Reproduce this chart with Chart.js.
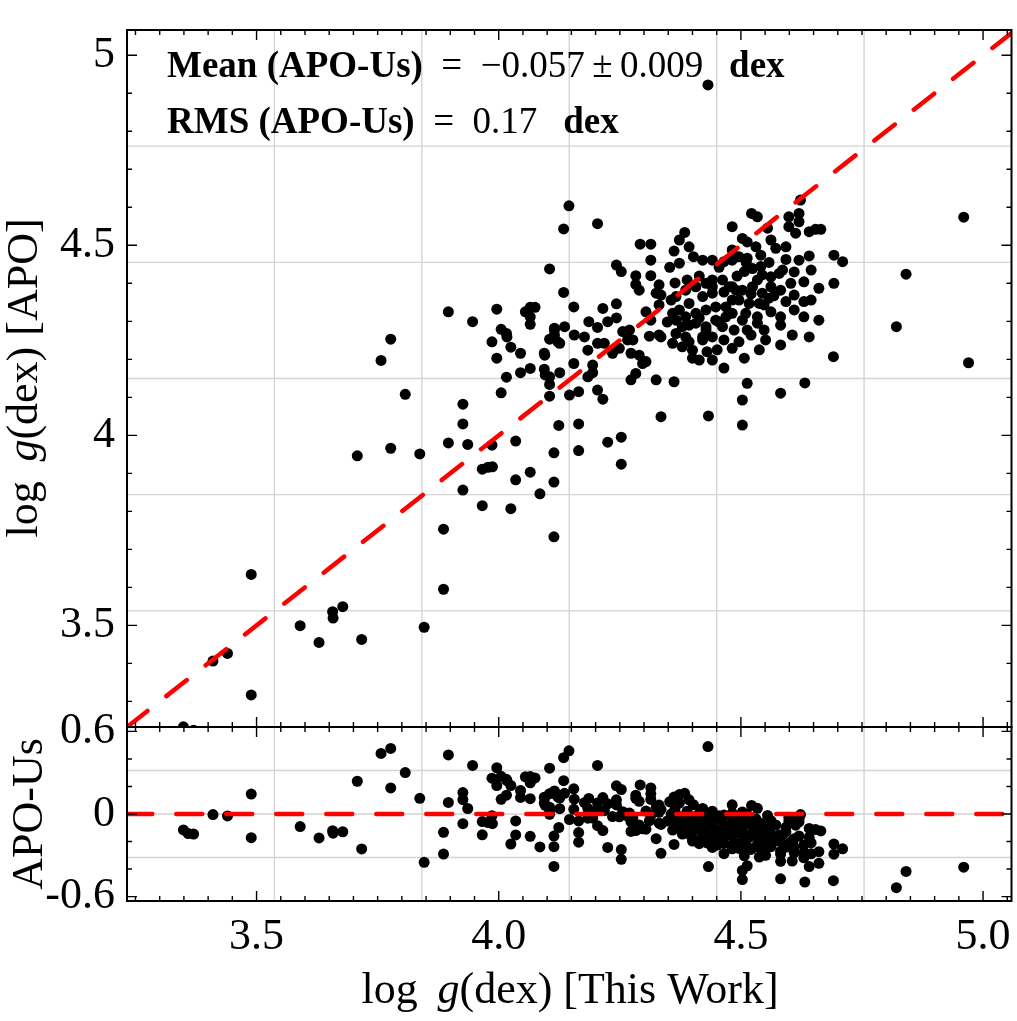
<!DOCTYPE html>
<html lang="en">
<head>
<meta charset="UTF-8">
<title>log g: APO vs This Work</title>
<script src="https://cdn.jsdelivr.net/npm/chart.js"></script>
<style>
  body { margin: 0; background: #fff; }
  #wrap { position: relative; width: 1017px; height: 1021px; }
  #wrap canvas { position: absolute; left: 0; top: 0; }
</style>
</head>
<body>
<div id="wrap">
  <canvas id="mainChart" width="1017" height="1021"></canvas>
  <canvas id="residChart" width="1017" height="1021"></canvas>
</div>
<script>
// log g (dex) from this work, one entry per star
const thisWork = [
  3.349, 3.359, 3.370, 3.410, 3.440, 3.489, 3.489, 3.590, 3.629, 3.657, 3.658, 3.678, 3.717, 3.708, 3.757, 3.777, 3.807, 3.777, 3.837, 3.846, 3.886, 3.886, 3.896, 3.896,
  3.946, 3.996, 3.926, 3.926, 3.936, 3.986, 4.035, 3.966, 3.978, 3.987, 4.065, 4.035, 3.926, 4.085, 3.966, 4.025, 4.114, 4.114, 4.124, 4.114, 4.005, 4.016, 4.045, 4.065, 4.094, 4.096, 4.105, 4.105, 4.095, 4.105, 4.115, 4.122, 3.986, 3.996, 4.025, 4.045, 4.005, 4.016, 4.017, 4.065, 4.075, 4.055, 4.065, 4.065, 4.105,
  4.145, 4.134, 4.204, 4.134, 4.155, 4.243, 4.253, 4.292, 4.314, 4.314, 4.283, 4.283, 4.314, 4.373, 4.384, 4.393, 4.362, 4.353, 4.373, 4.402, 4.421, 4.441, 4.455, 4.482, 4.482, 4.482, 4.441, 4.400, 4.414, 4.362, 4.325, 4.335, 4.433, 4.243, 4.215, 4.243, 4.186, 4.225, 4.204, 4.115, 4.136, 4.126, 4.115, 4.156, 4.177, 4.204, 4.184, 4.218, 4.094, 4.105, 4.126, 4.155, 4.194, 4.194, 4.184, 4.146, 4.165, 4.204, 4.215, 4.165, 4.165, 4.225, 4.253, 4.253, 4.273, 4.283, 4.235, 4.249, 4.273, 4.266, 4.290, 4.304, 4.297, 4.256, 4.270, 4.277, 4.304, 4.314, 4.331, 4.311, 4.290, 4.325, 4.335, 4.331, 4.335,
  4.356, 4.366, 4.386, 4.407, 4.428, 4.441, 4.462, 4.476, 4.441, 4.421, 4.393, 4.373, 4.359, 4.366, 4.386, 4.407, 4.428, 4.448, 4.469, 4.482, 4.490, 4.379, 4.366, 4.386, 4.359, 4.379, 4.400, 4.421, 4.441, 4.462, 4.428, 4.407, 4.469,
  4.623, 4.522, 4.534, 4.599, 4.620, 4.620, 4.555, 4.599, 4.613, 4.641, 4.654, 4.665, 4.503, 4.513, 4.562, 4.572, 4.593, 4.531, 4.541, 4.496, 4.513, 4.482, 4.465, 4.593, 4.620, 4.641, 4.692, 4.710, 4.507, 4.524, 4.541, 4.544, 4.534, 4.562, 4.579, 4.586, 4.603, 4.630, 4.661, 4.692, 4.582, 4.562, 4.544, 4.524, 4.503, 4.482, 4.441, 4.593, 4.630, 4.558, 4.538, 4.517, 4.496, 4.582, 4.582, 4.630, 4.534, 4.534, 4.510, 4.503, 4.513, 4.482, 4.448, 4.428, 4.421, 4.641, 4.582, 4.551, 4.691, 4.513, 4.503, 4.582, 4.632, 4.503,
  4.348, 4.393, 4.414, 4.455, 4.486, 4.465, 4.451, 4.430, 4.393, 4.496, 4.521, 4.548, 4.562, 4.548, 4.610, 4.610, 4.568, 4.521, 4.492, 4.465, 4.414, 4.389, 4.364, 4.331, 4.511, 4.558, 4.610, 4.645, 4.645, 4.661, 4.606, 4.538, 4.507, 4.465,
  4.960, 4.841, 4.821, 4.970, 4.432
];

// log g (dex) from APO, same order as thisWork
const apo = [
  3.233, 3.217, 3.224, 3.406, 3.426, 3.634, 3.317, 3.499, 3.455, 3.536, 3.519, 3.549, 3.463, 3.946, 4.197, 4.253, 4.108, 3.966, 3.951, 3.495, 3.753, 3.595, 4.325, 3.980,
  4.299, 4.332, 4.082, 4.030, 3.976, 3.974, 3.985, 3.911, 3.916, 3.917, 3.903, 3.883, 3.856, 3.846, 3.815, 3.807, 3.733, 3.954, 4.026, 3.877, 4.112, 4.153, 4.165, 4.176, 4.174, 4.159, 4.134, 4.103, 4.211, 4.253, 4.277, 4.246, 4.246, 4.203, 4.232, 4.216, 4.279, 4.268, 4.259, 4.337, 4.337, 4.325, 4.312, 4.292, 4.438,
  4.604, 4.543, 4.557, 4.376, 4.338, 4.448, 4.431, 4.503, 4.503, 4.461, 4.420, 4.397, 4.420, 4.514, 4.534, 4.496, 4.485, 4.442, 4.453, 4.470, 4.461, 4.461, 4.442, 4.549, 4.488, 4.229, 4.198, 4.203, 4.198, 4.141, 4.146, 4.049, 4.051, 4.346, 4.334, 4.309, 4.299, 4.299, 4.284, 4.282, 4.286, 4.242, 4.264, 4.264, 4.259, 4.242, 4.224, 4.242, 4.216, 4.154, 4.165, 4.189, 4.185, 4.165, 4.154, 4.106, 4.115, 4.119, 4.095, 4.030, 3.960, 3.982, 3.995, 3.924, 4.146, 4.163, 4.216, 4.229, 4.216, 4.251, 4.211, 4.194, 4.189, 4.273, 4.277, 4.251, 4.325, 4.303, 4.264, 4.261, 4.382, 4.374, 4.369, 4.343, 4.259,
  4.356, 4.365, 4.382, 4.391, 4.400, 4.409, 4.409, 4.391, 4.374, 4.365, 4.347, 4.330, 4.321, 4.303, 4.312, 4.321, 4.330, 4.338, 4.338, 4.356, 4.382, 4.286, 4.268, 4.259, 4.242, 4.233, 4.224, 4.251, 4.259, 4.286, 4.277, 4.295, 4.312,
  4.619, 4.584, 4.575, 4.575, 4.584, 4.562, 4.545, 4.549, 4.532, 4.536, 4.542, 4.542, 4.518, 4.509, 4.514, 4.492, 4.496, 4.496, 4.474, 4.470, 4.466, 4.461, 4.457, 4.463, 4.461, 4.472, 4.474, 4.457, 4.431, 4.439, 4.444, 4.422, 4.409, 4.417, 4.426, 4.435, 4.400, 4.404, 4.387, 4.400, 4.382, 4.391, 4.374, 4.391, 4.382, 4.391, 4.391, 4.352, 4.352, 4.361, 4.347, 4.347, 4.356, 4.312, 4.290, 4.312, 4.312, 4.295, 4.321, 4.303, 4.277, 4.321, 4.303, 4.286, 4.259, 4.259, 4.238, 4.251, 4.207, 4.137, 4.093, 4.111, 4.138, 4.027,
  4.298, 4.290, 4.309, 4.298, 4.277, 4.251, 4.225, 4.220, 4.246, 4.246, 4.264, 4.277, 4.325, 4.343, 4.330, 4.369, 4.367, 4.372, 4.419, 4.377, 4.419, 4.409, 4.401, 4.396, 4.455, 4.455, 4.430, 4.435, 4.356, 4.303, 4.264, 4.225, 4.203, 4.177,
  4.574, 4.424, 4.286, 4.191, 4.922
];

const xTicks = [3.5, 4.0, 4.5, 5.0];
const xTickLabels = ['3.5', '4.0', '4.5', '5.0'];
const apoTicks = [3.5, 4, 4.5, 5];
const apoTickLabels = ['3.5', '4', '4.5', '5'];
const residTicks = [-0.6, 0, 0.6];
const residTickLabels = ['-0.6', '0', '0.6'];
const refLine = [3.2, 5.1];          // 1:1 line / zero line extent
const meanText = '\u22120.057\u2009\u00b1\u20090.009';
const rmsText = '0.17';

const FONT = "'Liberation Serif', 'DejaVu Serif', serif";
const X_MIN = 3.2325, X_MAX = 5.0587;
const Y_MIN = 3.2325, Y_MAX = 5.0666;
const R_LIM = 0.632;
const SP = '\u2002';   // wider gap, like TeX math spacing

function steps(from, to, step) {
  const out = [];
  for (let v = from; v <= to + 1e-9; v += step) out.push(+v.toFixed(4));
  return out;
}

// grid (equal divisions of each axis), inside ticks on all sides and frame
const panelFrame = {
  id: 'panelFrame',
  beforeDatasetsDraw(chart, args, o) {
    const { ctx, chartArea: a, scales: { x, y } } = chart;
    ctx.save();
    ctx.strokeStyle = '#d4d4d4';
    ctx.lineWidth = 1.4;
    ctx.beginPath();
    for (let k = 1; k < o.xDiv; k++) {
      const px = x.getPixelForValue(x.min + (x.max - x.min) * k / o.xDiv);
      ctx.moveTo(px, a.top); ctx.lineTo(px, a.bottom);
    }
    for (let k = 1; k < o.yDiv; k++) {
      const py = y.getPixelForValue(y.min + (y.max - y.min) * k / o.yDiv);
      ctx.moveTo(a.left, py); ctx.lineTo(a.right, py);
    }
    ctx.stroke();
    ctx.restore();
  },
  afterDatasetsDraw(chart, args, o) {
    const { ctx, chartArea: a, scales: { x, y } } = chart;
    ctx.save();
    ctx.strokeStyle = '#000';
    ctx.lineWidth = 1.4;
    ctx.beginPath();
    const mark = (vals, len, horiz) => vals.forEach(v => {
      if (horiz) {
        const px = x.getPixelForValue(v);
        if (px < a.left || px > a.right) return;
        ctx.moveTo(px, a.bottom); ctx.lineTo(px, a.bottom - len);
        ctx.moveTo(px, a.top); ctx.lineTo(px, a.top + len);
      } else {
        const py = y.getPixelForValue(v);
        if (py < a.top || py > a.bottom) return;
        ctx.moveTo(a.left, py); ctx.lineTo(a.left + len, py);
        ctx.moveTo(a.right, py); ctx.lineTo(a.right - len, py);
      }
    });
    mark(o.xMinor, 5, true);
    mark(o.xMajor, 10, true);
    mark(o.yMinor, 5, false);
    mark(o.yMajor, 10, false);
    ctx.stroke();
    ctx.lineWidth = 2;
    ctx.strokeRect(a.left, a.top, a.right - a.left, a.bottom - a.top);
    ctx.restore();
  }
};

// mixed-style text (bold / italic pieces), optionally rotated
const panelText = {
  id: 'panelText',
  afterDraw(chart, args, o) {
    const ctx = chart.ctx;
    (o.items || []).forEach(it => {
      ctx.save();
      ctx.fillStyle = '#000';
      ctx.textBaseline = it.baseline || 'alphabetic';
      ctx.translate(it.x, it.y);
      if (it.rotate) ctx.rotate(it.rotate);
      let w = 0;
      it.parts.forEach(([t, st]) => { ctx.font = `${st} ${it.size}px ${FONT}`; w += ctx.measureText(t).width; });
      let cx = it.center ? -w / 2 : 0;
      it.parts.forEach(([t, st]) => {
        ctx.font = `${st} ${it.size}px ${FONT}`;
        ctx.fillText(t, cx, 0);
        cx += ctx.measureText(t).width;
      });
      ctx.restore();
    });
  }
};

const scatterPts = thisWork.map((v, i) => ({ x: v, y: apo[i] }));
const residPts = thisWork.map((v, i) => ({ x: v, y: +(apo[i] - v).toFixed(3) }));
const diagPts = refLine.map(v => ({ x: v, y: v }));
const zeroPts = refLine.map(v => ({ x: v, y: 0 }));

const tickFont = { family: FONT, size: 44 };
const dotRadius = 5.5;

new Chart(document.getElementById('mainChart'), {
  type: 'scatter',
  data: {
    datasets: [
      { type: 'line', data: diagPts, borderColor: '#ff0000', borderWidth: 4.5, borderDash: [26, 24],
        borderDashOffset: 30, borderCapStyle: 'round', pointRadius: 0, fill: false, clip: 0, order: 0 },
      { data: scatterPts, backgroundColor: '#000', borderWidth: 0, pointRadius: dotRadius, clip: 0, order: 1 }
    ]
  },
  options: {
    responsive: false,
    animation: false,
    events: [],
    layout: { padding: { left: 0, top: 30, right: 4, bottom: 294 } },
    plugins: {
      legend: { display: false },
      tooltip: { enabled: false },
      panelFrame: {
        xDiv: 6, yDiv: 6,
        xMajor: xTicks, xMinor: steps(3.25, 5.05, 0.05),
        yMajor: apoTicks, yMinor: steps(3.3, 5.0, 0.1)
      },
      panelText: {
        items: [
          { x: 167, y: 77, size: 37, parts: [['Mean (APO-Us)', 'bold'], [SP + '=' + SP + meanText + SP + '\u2009', 'normal'], ['dex', 'bold']] },
          { x: 167, y: 133, size: 37, parts: [['RMS (APO-Us)', 'bold'], [SP + '=' + SP + rmsText + SP + '\u2009', 'normal'], ['dex', 'bold']] },
          { x: 25, y: 378, size: 44, rotate: -Math.PI / 2, center: true, baseline: 'middle',
            parts: [['log\u2009 ', 'normal'], ['g', 'italic'], ['(dex) [APO]', 'normal']] }
        ]
      }
    },
    scales: {
      x: {
        type: 'linear', min: X_MIN, max: X_MAX,
        grid: { display: false, drawTicks: false }, border: { display: false },
        ticks: { display: false },
        afterFit(s) { s.height = 0; s.paddingLeft = 0; s.paddingRight = 0; }
      },
      y: {
        type: 'linear', min: Y_MIN, max: Y_MAX,
        grid: { display: false, drawTicks: false }, border: { display: false },
        afterBuildTicks(s) { s.ticks = apoTicks.map(v => ({ value: v })); },
        ticks: { autoSkip: false, padding: 12, color: '#000', font: tickFont, callback: (v, i) => apoTickLabels[i] },
        afterFit(s) { s.width = 127; s.paddingTop = 0; s.paddingBottom = 0; }
      }
    }
  },
  plugins: [panelFrame, panelText]
});

new Chart(document.getElementById('residChart'), {
  type: 'scatter',
  data: {
    datasets: [
      { type: 'line', data: zeroPts, borderColor: '#ff0000', borderWidth: 4.5, borderDash: [26, 24],
        borderDashOffset: 35, borderCapStyle: 'round', pointRadius: 0, fill: false, clip: 0, order: 0 },
      { data: residPts, backgroundColor: '#000', borderWidth: 0, pointRadius: dotRadius, clip: 0, order: 1 }
    ]
  },
  options: {
    responsive: false,
    animation: false,
    events: [],
    layout: { padding: { left: 0, top: 727, right: 4, bottom: 0 } },
    plugins: {
      legend: { display: false },
      tooltip: { enabled: false },
      panelFrame: {
        xDiv: 6, yDiv: 4,
        xMajor: xTicks, xMinor: steps(3.25, 5.05, 0.05),
        yMajor: residTicks, yMinor: [-0.4, -0.2, 0.2, 0.4]
      },
      panelText: {
        items: [
          { x: 30, y: 814, size: 44, rotate: -Math.PI / 2, center: true, baseline: 'middle',
            parts: [['APO-Us', 'normal']] },
          { x: 570, y: 1003, size: 44, center: true,
            parts: [['log\u2009 ', 'normal'], ['g', 'italic'], ['(dex) [This Work]', 'normal']] }
        ]
      }
    },
    scales: {
      x: {
        type: 'linear', min: X_MIN, max: X_MAX,
        grid: { display: false, drawTicks: false }, border: { display: false },
        afterBuildTicks(s) { s.ticks = xTicks.map(v => ({ value: v })); },
        ticks: { autoSkip: false, maxRotation: 0, padding: 10, color: '#000', font: tickFont, callback: (v, i) => xTickLabels[i] },
        afterFit(s) { s.height = 120; s.paddingLeft = 0; s.paddingRight = 0; }
      },
      y: {
        type: 'linear', min: -R_LIM, max: R_LIM,
        grid: { display: false, drawTicks: false }, border: { display: false },
        afterBuildTicks(s) { s.ticks = residTicks.map(v => ({ value: v })); },
        ticks: { autoSkip: false, padding: 12, color: '#000', font: tickFont, callback: (v, i) => residTickLabels[i] },
        afterFit(s) { s.width = 127; s.paddingTop = 0; s.paddingBottom = 0; }
      }
    }
  },
  plugins: [panelFrame, panelText]
});
</script>
</body>
</html>
